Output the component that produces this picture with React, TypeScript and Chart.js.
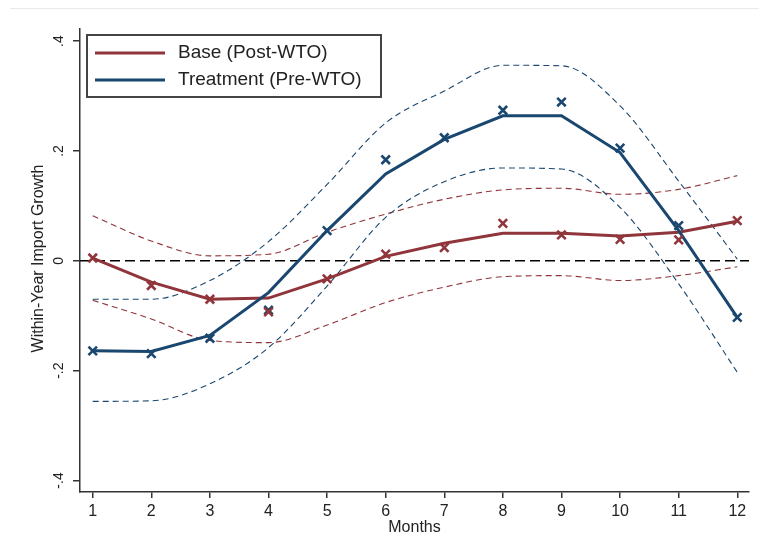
import { useEffect, useRef } from "react"
import { Chart, registerables } from "chart.js"

Chart.register(...registerables)

const months = [1, 2, 3, 4, 5, 6, 7, 8, 9, 10, 11, 12]

// Base (Post-WTO)
const baseFit = [0.005, -0.039, -0.07, -0.068, -0.033, 0.008, 0.032, 0.05, 0.05, 0.045, 0.052, 0.072]
const baseObs = [0.005, -0.045, -0.07, -0.093, -0.033, 0.012, 0.024, 0.068, 0.047, 0.039, 0.038, 0.073]
const baseUpper = [0.082, 0.036, 0.009, 0.012, 0.052, 0.085, 0.112, 0.129, 0.132, 0.121, 0.13, 0.155]
const baseLower = [-0.072, -0.106, -0.145, -0.149, -0.117, -0.076, -0.048, -0.029, -0.027, -0.036, -0.027, -0.011]

// Treatment (Pre-WTO)
const treatFit = [-0.164, -0.165, -0.136, -0.058, 0.055, 0.158, 0.221, 0.264, 0.264, 0.197, 0.055, -0.103]
const treatObs = [-0.164, -0.169, -0.141, -0.09, 0.055, 0.184, 0.224, 0.274, 0.289, 0.205, 0.064, -0.103]
const treatUpper = [-0.07, -0.07, -0.036, 0.035, 0.139, 0.251, 0.309, 0.356, 0.355, 0.282, 0.145, 0.003]
const treatLower = [-0.256, -0.255, -0.224, -0.158, -0.046, 0.079, 0.144, 0.169, 0.167, 0.097, -0.042, -0.203]

const yTicks = [0.4, 0.2, 0, -0.2, -0.4]
const yTickLabels = [".4", ".2", "0", "-.2", "-.4"]

const legendLabels = ["Base (Post-WTO)", "Treatment (Pre-WTO)"]

const RED = "rgb(144, 53, 59)"
const BLUE = "rgb(26, 71, 111)"
const AXIS = "#333"
const TEXT = "#222"
const FONT = '"Liberation Sans", Arial, sans-serif'

const pts = (vals: number[]) => months.map((m, i) => ({ x: m, y: vals[i] }))

export default function App() {
  const chartRef = useRef<HTMLCanvasElement>(null)
  const chartInstance = useRef<Chart | null>(null)

  useEffect(() => {
    if (!chartRef.current) return
    if (chartInstance.current) chartInstance.current.destroy()
    const ctx = chartRef.current.getContext("2d")
    if (!ctx) return

    const marker = (label: string, vals: number[], color: string) => ({
      label,
      data: pts(vals),
      showLine: false,
      pointStyle: "crossRot" as const,
      pointRadius: 6,
      pointBorderWidth: 2.6,
      pointBorderColor: color,
      pointBackgroundColor: color,
      borderColor: color,
    })
    const fit = (label: string, vals: number[], color: string) => ({
      label,
      data: pts(vals),
      borderColor: color,
      borderWidth: 3,
      pointRadius: 0,
      tension: 0,
    })
    const band = (label: string, vals: number[], color: string) => ({
      label,
      data: pts(vals),
      borderColor: color,
      borderWidth: 1.1,
      borderDash: [6, 4],
      pointRadius: 0,
      cubicInterpolationMode: "monotone" as const,
    })

    // custom drawing: zero line, rotated y labels, axis titles, legend box
    const decorations = {
      id: "decorations",
      beforeDatasetsDraw(chart: Chart) {
        const c = chart.ctx
        const { left, right } = chart.chartArea
        const y0 = chart.scales.y.getPixelForValue(0)
        c.save()
        c.strokeStyle = "#000"
        c.lineWidth = 1.6
        c.setLineDash([10, 5])
        c.beginPath()
        c.moveTo(left, y0)
        c.lineTo(right, y0)
        c.stroke()
        c.restore()
      },
      afterDraw(chart: Chart) {
        const c = chart.ctx
        const { left, right, top, bottom } = chart.chartArea
        const yScale = chart.scales.y
        c.save()
        c.fillStyle = TEXT
        c.textAlign = "center"
        c.textBaseline = "middle"

        // y tick labels, vertical
        c.font = `14px ${FONT}`
        yTicks.forEach((v, i) => {
          c.save()
          c.translate(left - 21, yScale.getPixelForValue(v))
          c.rotate(-Math.PI / 2)
          c.fillText(yTickLabels[i], 0, 0)
          c.restore()
        })

        // y title
        c.font = `16px ${FONT}`
        c.save()
        c.translate(left - 41, (top + bottom) / 2 - 2)
        c.rotate(-Math.PI / 2)
        c.fillText("Within-Year Import Growth", 0, 0)
        c.restore()

        // x title
        c.fillText("Months", (left + right) / 2, bottom + 36)

        // legend
        const lx = left + 7
        const ly = top + 6
        c.fillStyle = "#fff"
        c.fillRect(lx, ly, 294, 62)
        c.strokeStyle = "#444"
        c.lineWidth = 2
        c.strokeRect(lx, ly, 294, 62)
        const colors = [RED, BLUE]
        legendLabels.forEach((txt, i) => {
          const yy = ly + 18 + i * 27
          c.strokeStyle = colors[i]
          c.lineWidth = 3
          c.beginPath()
          c.moveTo(lx + 8, yy)
          c.lineTo(lx + 78, yy)
          c.stroke()
          c.fillStyle = TEXT
          c.font = `19px ${FONT}`
          c.textAlign = "left"
          c.fillText(txt, lx + 91, yy)
        })
        c.restore()
      },
    }

    chartInstance.current = new Chart(ctx, {
      type: "line",
      data: {
        datasets: [
          marker("Base obs", baseObs, RED),
          marker("Treatment obs", treatObs, BLUE),
          fit("Treatment (Pre-WTO)", treatFit, BLUE),
          fit("Base (Post-WTO)", baseFit, RED),
          band("Treatment upper", treatUpper, BLUE),
          band("Treatment lower", treatLower, BLUE),
          band("Base upper", baseUpper, RED),
          band("Base lower", baseLower, RED),
        ] as any,
      },
      options: {
        responsive: true,
        maintainAspectRatio: false,
        animation: false,
        layout: { padding: { top: 29, right: 10, left: 0, bottom: 0 } },
        plugins: {
          legend: { display: false },
          tooltip: { enabled: false },
        },
        scales: {
          x: {
            type: "linear",
            min: 0.783,
            max: 12.2,
            bounds: "data",
            afterBuildTicks: (scale: any) => {
              scale.ticks = months.map((m) => ({ value: m }))
            },
            afterFit: (scale: any) => {
              scale.height = 62
            },
            grid: {
              drawOnChartArea: false,
              drawTicks: true,
              tickLength: 6,
              color: AXIS,
              lineWidth: 1.5,
            },
            border: { display: true, color: AXIS, width: 1.5 },
            ticks: {
              autoSkip: false,
              maxRotation: 0,
              padding: 4,
              color: TEXT,
              font: { family: FONT, size: 16 },
            },
          },
          y: {
            type: "linear",
            min: -0.421,
            max: 0.422,
            bounds: "data",
            afterBuildTicks: (scale: any) => {
              scale.ticks = yTicks.map((v) => ({ value: v }))
            },
            afterFit: (scale: any) => {
              scale.width = 80
            },
            grid: {
              drawOnChartArea: false,
              drawTicks: true,
              tickLength: 7,
              color: AXIS,
              lineWidth: 1.5,
            },
            border: { display: true, color: AXIS, width: 1.5 },
            ticks: { display: false },
          },
        },
      },
      plugins: [decorations],
    })

    return () => {
      if (chartInstance.current) {
        chartInstance.current.destroy()
        chartInstance.current = null
      }
    }
  }, [])

  return (
    <div style={{ position: "fixed", left: 0, top: 0, width: 759, height: 554, background: "#fff" }}>
      <div style={{ position: "absolute", left: 10, right: 0, top: 8, height: 1, background: "#e4eaee" }} />
      <canvas ref={chartRef}></canvas>
    </div>
  )
}
